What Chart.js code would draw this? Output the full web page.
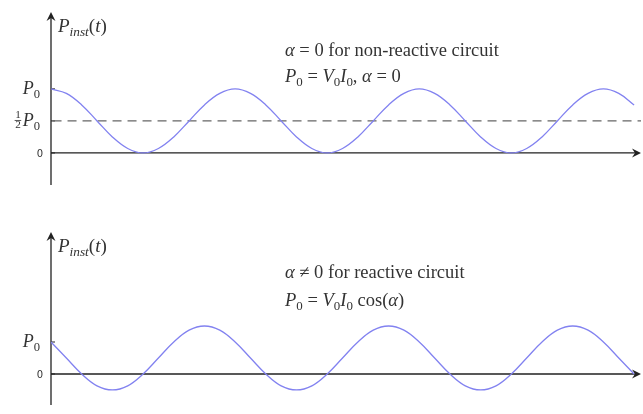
<!DOCTYPE html>
<html>
<head>
<meta charset="utf-8">
<script src="https://cdn.jsdelivr.net/npm/chart.js@4.4.1/dist/chart.umd.min.js"></script>
<style>
  body { margin: 0; background: #fff; }
  canvas { position: absolute; left: 0; }
  #top { top: 0; }
  #bottom { top: 207px; }
</style>
</head>
<body>
<canvas id="top" width="643" height="207"></canvas>
<canvas id="bottom" width="643" height="207"></canvas>
<script>
// samples every 1/12 of a period (units of P0)
var topValues = [
    1, 0.93, 0.75, 0.5, 0.25, 0.07, 0, 0.07, 0.25, 0.5, 0.75, 0.93,
    1, 0.93, 0.75, 0.5, 0.25, 0.07, 0, 0.07, 0.25, 0.5, 0.75, 0.93,
    1, 0.93, 0.75, 0.5, 0.25, 0.07, 0, 0.07, 0.25, 0.5, 0.75, 0.93,
    1, 0.93, 0.75
];
var bottomValues = [
    1, 0.5, 0, -0.37, -0.5, -0.37, 0, 0.5, 1, 1.37, 1.5, 1.37,
    1, 0.5, 0, -0.37, -0.5, -0.37, 0, 0.5, 1, 1.37, 1.5, 1.37,
    1, 0.5, 0, -0.37, -0.5, -0.37, 0, 0.5, 1, 1.37, 1.5, 1.37,
    1, 0.5, 0
];
var halfLevel = 0.5;
var topTicks = [0, 0.5, 1];
var topTickLabels = ['0', '½P₀', 'P₀'];
var bottomTicks = [0, 1];
var bottomTickLabels = ['0', 'P₀'];

var SERIF = '"Liberation Serif", "DejaVu Serif", serif';
var INK = '#333';

// draws (or only measures) a run of text pieces: r = roman, i = italic,
// s = subscript, si = italic subscript, frac = stacked 1/2
function rich(ctx, x, y, parts, size, measureOnly) {
    var x0 = x;
    parts.forEach(function (p) {
        var txt = p[0], kind = p[1];
        if (kind === 'frac') {
            var fsz = size * 0.62;
            ctx.font = fsz + 'px ' + SERIF;
            var w = ctx.measureText('2').width;
            if (!measureOnly) {
                ctx.fillText('1', x + 1, y - size * 0.42);
                ctx.fillText('2', x + 1, y + size * 0.12);
                ctx.fillRect(x + 0.5, y - size * 0.33, w + 1, 0.8);
            }
            x += w + 3;
            return;
        }
        var fs = size, dy = 0, style = '';
        if (kind === 'i' || kind === 'si') style = 'italic ';
        if (kind === 's' || kind === 'si') { fs = size * 0.7; dy = size * 0.22; }
        ctx.font = style + fs + 'px ' + SERIF;
        if (!measureOnly) ctx.fillText(txt, x, y + dy);
        x += ctx.measureText(txt).width;
    });
    return x - x0;
}

function tickParts(label) {
    return label.split('').map(function (ch) {
        if (ch === '½') return ['', 'frac'];
        if (ch === '₀') return ['0', 's'];
        return [ch, 'i'];
    });
}

function arrowHead(ctx, x, y, dir) {
    ctx.save();
    ctx.translate(x, y);
    if (dir === 'up') ctx.rotate(-Math.PI / 2);
    ctx.beginPath();
    ctx.moveTo(0, 0);
    ctx.lineTo(-9, -4.5);
    ctx.lineTo(-6, 0);
    ctx.lineTo(-9, 4.5);
    ctx.closePath();
    ctx.fill();
    ctx.restore();
}

var axesPlugin = {
    id: 'axesPlugin',
    beforeDatasetsDraw: function (chart, args, opts) {
        var ctx = chart.ctx, a = chart.chartArea, y = chart.scales.y;
        var y0 = y.getPixelForValue(0);
        ctx.save();
        ctx.strokeStyle = '#222';
        ctx.fillStyle = '#222';
        ctx.lineWidth = 1.3;
        ctx.beginPath();
        ctx.moveTo(a.left, a.bottom);
        ctx.lineTo(a.left, a.top + 5);
        ctx.moveTo(a.left, y0);
        ctx.lineTo(a.right - 5, y0);
        ctx.stroke();
        arrowHead(ctx, a.left, a.top, 'up');
        arrowHead(ctx, a.right, y0, 'right');
        ctx.lineWidth = 1;
        opts.ticks.forEach(function (v) {
            var py = y.getPixelForValue(v);
            ctx.beginPath();
            ctx.moveTo(a.left, py);
            ctx.lineTo(a.left + 4, py);
            ctx.stroke();
        });
        ctx.restore();
    },
    afterDraw: function (chart, args, opts) {
        var ctx = chart.ctx, a = chart.chartArea, y = chart.scales.y;
        ctx.save();
        ctx.fillStyle = INK;
        ctx.textBaseline = 'alphabetic';
        // tick labels
        opts.ticks.forEach(function (v, i) {
            var label = opts.tickLabels[i];
            var py = y.getPixelForValue(v);
            if (label === '0') {
                ctx.font = '10px "DejaVu Sans", sans-serif';
                ctx.textAlign = 'right';
                ctx.fillText(label, a.left - 8, py + 4);
                ctx.textAlign = 'left';
                return;
            }
            var parts = tickParts(label);
            var w = rich(ctx, 0, 0, parts, 18, true);
            rich(ctx, a.left - 11 - w, py + 5, parts, 18);
        });
        // axis title
        rich(ctx, a.left + 7, a.top + 20, [['P', 'i'], ['inst', 'si'], ['(', 'r'], ['t', 'i'], [')', 'r']], 19);
        opts.notes.forEach(function (n) {
            rich(ctx, n.x, n.y, n.parts, 18.5);
        });
        ctx.restore();
    }
};

function makeChart(id, values, ticks, tickLabels, yMin, yMax, pad, extra, notes) {
    var datasets = [{
        data: values.map(function (v, i) { return { x: i, y: v }; }),
        borderColor: '#8282f0',
        borderWidth: 1.3,
        pointRadius: 0,
        tension: 0.4,
        fill: false
    }].concat(extra);
    return new Chart(document.getElementById(id), {
        type: 'line',
        data: { datasets: datasets },
        options: {
            responsive: false,
            animation: false,
            layout: { padding: pad },
            plugins: {
                legend: { display: false },
                tooltip: { enabled: false },
                axesPlugin: { ticks: ticks, tickLabels: tickLabels, notes: notes }
            },
            scales: {
                x: { type: 'linear', min: 0, max: 38.45, display: false },
                y: {
                    min: yMin,
                    max: yMax,
                    grid: { display: false, drawTicks: false },
                    border: { display: false },
                    ticks: { display: false },
                    afterFit: function (scale) { scale.width = 51; }
                }
            }
        },
        plugins: [axesPlugin]
    });
}

makeChart('top', topValues, topTicks, topTickLabels, -0.5, 2.2,
    { top: 12, bottom: 22, right: 2, left: 0 },
    [{
        data: [{ x: 0.1, y: halfLevel }, { x: 38.45, y: halfLevel }],
        borderColor: '#666',
        borderWidth: 1.3,
        borderDash: [9, 6],
        pointRadius: 0
    }],
    [
        { x: 285, y: 56, parts: [['α', 'i'], [' = 0 for non-reactive circuit', 'r']] },
        { x: 285, y: 82, parts: [['P', 'i'], ['0', 's'], [' = ', 'r'], ['V', 'i'], ['0', 's'], ['I', 'i'], ['0', 's'], [', ', 'r'], ['α', 'i'], [' = 0', 'r']] }
    ]);

makeChart('bottom', bottomValues, bottomTicks, bottomTickLabels, -0.97, 4.44,
    { top: 25, bottom: 9, right: 2, left: 0 },
    [],
    [
        { x: 285, y: 71, parts: [['α', 'i'], [' ≠ 0 for reactive circuit', 'r']] },
        { x: 285, y: 99, parts: [['P', 'i'], ['0', 's'], [' = ', 'r'], ['V', 'i'], ['0', 's'], ['I', 'i'], ['0', 's'], [' cos(', 'r'], ['α', 'i'], [')', 'r']] }
    ]);
</script>
</body>
</html>
